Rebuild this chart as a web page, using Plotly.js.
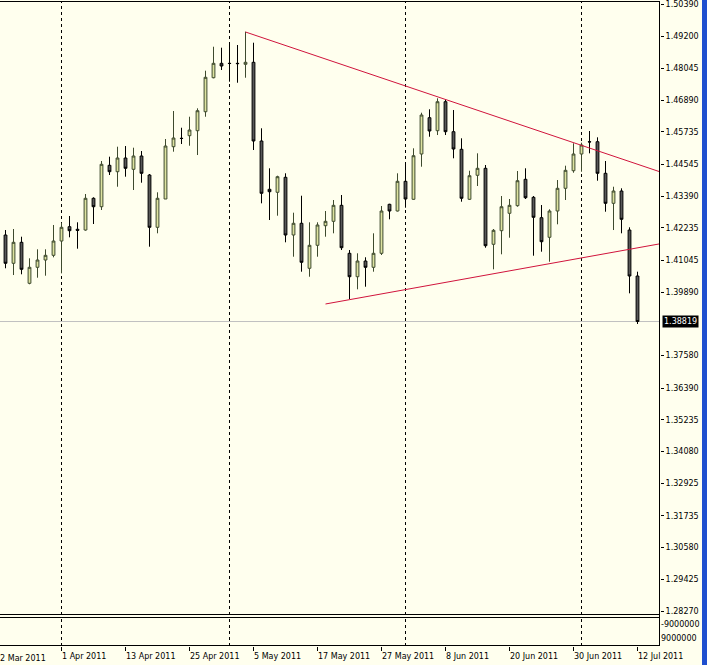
<!DOCTYPE html>
<html><head><meta charset="utf-8">
<script src="https://cdn.plot.ly/plotly-3.0.1.min.js"></script>
<style>html,body{margin:0;padding:0;background:#FFFFEE;overflow:hidden}</style>
</head><body><div id="chart" style="width:707px;height:665px"></div>
<script>
const dates = [
"2011-03-23","2011-03-24","2011-03-25","2011-03-28","2011-03-29","2011-03-30","2011-03-31",
"2011-04-01","2011-04-04","2011-04-05","2011-04-06","2011-04-07","2011-04-08","2011-04-11","2011-04-12","2011-04-13","2011-04-14","2011-04-15","2011-04-18","2011-04-19","2011-04-20","2011-04-21","2011-04-22","2011-04-25","2011-04-26","2011-04-27","2011-04-28","2011-04-29",
"2011-05-02","2011-05-03","2011-05-04","2011-05-05","2011-05-06","2011-05-09","2011-05-10","2011-05-11","2011-05-12","2011-05-13","2011-05-16","2011-05-17","2011-05-18","2011-05-19","2011-05-20","2011-05-23","2011-05-24","2011-05-25","2011-05-26","2011-05-27","2011-05-30","2011-05-31",
"2011-06-01","2011-06-02","2011-06-03","2011-06-06","2011-06-07","2011-06-08","2011-06-09","2011-06-10","2011-06-13","2011-06-14","2011-06-15","2011-06-16","2011-06-17","2011-06-20","2011-06-21","2011-06-22","2011-06-23","2011-06-24","2011-06-27","2011-06-28","2011-06-29","2011-06-30",
"2011-07-01","2011-07-04","2011-07-05","2011-07-06","2011-07-07","2011-07-08","2011-07-11","2011-07-12"];

const open = [
1.41972,1.40941,1.41706,1.40212,1.40795,1.41061,1.41232,
1.41753,1.42275,1.42180,1.42154,1.43310,1.43003,1.44512,1.44279,1.44778,1.44366,1.44851,1.44159,1.42253,1.43284,1.45190,1.45496,1.45591,1.45773,1.46465,1.47704,1.48229,
1.48229,1.48229,1.48193,1.48266,1.45398,1.43638,1.43528,1.44075,1.41972,1.42399,1.40759,1.41597,1.42311,1.42471,1.43054,1.41305,1.40452,1.41025,1.40795,1.41305,1.43091,1.42847,
1.43929,1.43273,1.44924,1.46247,1.45773,1.46830,1.45737,1.45095,1.43273,1.44148,1.44403,1.41633,1.42129,1.42763,1.43040,1.44002,1.43346,1.42603,1.41888,1.42847,1.43674,1.44315,
1.44924,1.45372,1.45372,1.44221,1.43127,1.43576,1.42154,1.40478];

const high = [
1.42154,1.42191,1.41910,1.41123,1.41451,1.41451,1.42337,
1.42420,1.42665,1.42435,1.43466,1.43346,1.44669,1.44826,1.45190,1.45215,1.45154,1.45033,1.44195,1.43528,1.45471,1.46491,1.45882,1.46283,1.46589,1.47960,1.48834,1.48798,
1.48980,1.48896,1.49381,1.48980,1.45861,1.44403,1.44133,1.44221,1.42785,1.43404,1.42435,1.42435,1.42847,1.43248,1.43430,1.41425,1.41305,1.41160,1.42034,1.43029,1.43110,1.44221,
1.44585,1.45132,1.46429,1.46553,1.46954,1.46917,1.46527,1.45496,1.44315,1.44949,1.44523,1.42191,1.43393,1.43284,1.44304,1.44403,1.43393,1.43065,1.42909,1.43976,1.44498,1.45314,
1.45336,1.45762,1.45532,1.44669,1.43732,1.43674,1.42253,1.40635];

const low = [
1.40759,1.40514,1.40540,1.40176,1.40416,1.40489,1.41159,
1.40576,1.41888,1.41473,1.42129,1.42373,1.42883,1.44159,1.43732,1.44097,1.43612,1.43878,1.41546,1.42034,1.43284,1.45008,1.45288,1.45226,1.44887,1.46283,1.47683,1.47985,
1.47559,1.47522,1.47704,1.45070,1.43127,1.42519,1.42676,1.41706,1.41181,1.40635,1.40452,1.41181,1.41910,1.42034,1.41425,1.39640,1.39993,1.40088,1.40635,1.41243,1.42544,1.42830,
1.42967,1.43260,1.44461,1.45554,1.45616,1.45616,1.44767,1.43186,1.43248,1.43758,1.41509,1.40722,1.41269,1.41874,1.43003,1.43284,1.41218,1.41364,1.40999,1.42362,1.43248,1.44242,
1.44279,1.44949,1.43951,1.42821,1.42154,1.42034,1.39847,1.38729];

const close = [
1.40941,1.41706,1.40722,1.40795,1.41061,1.41232,1.41753,
1.42253,1.42129,1.42143,1.43310,1.43003,1.44549,1.44279,1.44778,1.44403,1.44851,1.44221,1.42253,1.43310,1.45215,1.45507,1.45490,1.45799,1.46502,1.47719,1.48229,1.48131,
1.48222,1.48218,1.48266,1.45398,1.43492,1.43550,1.44097,1.41972,1.42399,1.40977,1.41597,1.42337,1.42471,1.43054,1.41509,1.40452,1.41025,1.40795,1.41305,1.42847,1.42847,1.43929,
1.43284,1.44862,1.46345,1.45762,1.46830,1.45737,1.45106,1.43310,1.44133,1.44403,1.41582,1.42143,1.43003,1.43054,1.43951,1.43331,1.42617,1.41728,1.42847,1.43674,1.44330,1.44924,
1.45252,1.45365,1.44221,1.43127,1.43576,1.42544,1.40478,1.38819];

const priceTicks = [1.50390,1.49200,1.48045,1.46890,1.45735,1.44545,1.43390,1.42235,1.41045,1.39890,
  1.37580,1.36390,1.35235,1.34080,1.32925,1.31735,1.30580,1.29425,1.28270];

const dateLabelDates = ["2011-04-01","2011-04-13","2011-04-25","2011-05-05","2011-05-17","2011-05-27","2011-06-08","2011-06-20","2011-06-30","2011-07-12"];
const dateLabelTexts = ["1 Apr 2011","13 Apr 2011","25 Apr 2011","5 May 2011","17 May 2011","27 May 2011","8 Jun 2011","20 Jun 2011","30 Jun 2011","12 Jul 2011"];
const firstLabelText = "22 Mar 2011";

const monthStarts = ["2011-04-01","2011-05-02","2011-06-01","2011-07-01"];

// trend lines: bar index (position in dates, extended past the last bar) and price
const upperTrendIdx = [30, 82];
const upperTrendPrice = [1.49370, 1.44256];
const lowerTrendIdx = [40, 82];
const lowerTrendPrice = [1.39458, 1.41662];

const indicatorTickText = ["-9000000", "9000000"];

const xIdx = dates.map((d, i) => i);
const lastClose = close[close.length - 1];

const FONT = 'DejaVu Sans';
const candle = {
  type: 'candlestick', x: xIdx, open: open, high: high, low: low, close: close,
  xaxis: 'x', yaxis: 'y', whiskerwidth: 0,
  increasing: {line: {color: '#3E4A2E', width: 1}, fillcolor: '#DDE3A0'},
  decreasing: {line: {color: '#000000', width: 1}, fillcolor: '#585858'},
  hoverinfo: 'skip', showlegend: false
};
const up = {type: 'scatter', mode: 'lines', x: upperTrendIdx, y: upperTrendPrice, xaxis: 'x', yaxis: 'y',
  line: {color: '#D0143C', width: 1}, hoverinfo: 'skip', showlegend: false};
const lo = {type: 'scatter', mode: 'lines', x: lowerTrendIdx, y: lowerTrendPrice, xaxis: 'x', yaxis: 'y',
  line: {color: '#D0143C', width: 1}, hoverinfo: 'skip', showlegend: false};
// empty indicator window
const ind = {type: 'scatter', mode: 'lines', x: [], y: [], xaxis: 'x', yaxis: 'y2',
  hoverinfo: 'skip', showlegend: false};

const shapes = [];
monthStarts.forEach(d => {
  const i = dates.indexOf(d);
  ['y domain', 'y2 domain'].forEach(yr => shapes.push({type: 'line', xref: 'x', yref: yr, x0: i, x1: i, y0: 0, y1: 1,
    line: {color: '#000', width: 1, dash: '3px,3px'}, layer: 'below'}));
});
shapes.push({type: 'line', xref: 'x domain', yref: 'y', x0: 0, x1: 1, y0: lastClose, y1: lastClose,
  line: {color: '#C0C0C0', width: 1}, layer: 'below'});
// panel borders (placed on pixel centres)
const B = {color: '#000', width: 1};
shapes.push({type: 'line', xref: 'paper', yref: 'y domain', x0: 0, x1: 1, y0: 1 - 0.5/614, y1: 1 - 0.5/614, line: B});
shapes.push({type: 'line', xref: 'paper', yref: 'y domain', x0: 0, x1: 1, y0: 0.5/614, y1: 0.5/614, line: B});
shapes.push({type: 'line', xref: 'paper', yref: 'y2 domain', x0: 0, x1: 1, y0: 1 - 0.5/29, y1: 1 - 0.5/29, line: B});
shapes.push({type: 'line', xref: 'paper', yref: 'y2 domain', x0: 0, x1: 1, y0: 0.5/29, y1: 0.5/29, line: B});
shapes.push({type: 'line', xref: 'paper', yref: 'paper', x0: 659.5/660, x1: 659.5/660, y0: 0, y1: 1, line: B});
// window frame strip at right
shapes.push({type: 'rect', xref: 'paper', yref: 'paper', x0: 702/660, x1: 1.2, y0: -0.2, y1: 1.2,
  fillcolor: '#1F4FCF', line: {width: 0}, layer: 'above'});

const annotations = [
  {xref: 'paper', yref: 'y', x: 1, y: lastClose, xanchor: 'left', yanchor: 'middle', xshift: 2,
   text: lastClose.toFixed(5), showarrow: false, bgcolor: '#000', borderpad: 1,
   font: {family: FONT, size: 8, color: '#FFF'}},
  {xref: 'paper', yref: 'paper', x: -7/660, y: 0, xanchor: 'left', yanchor: 'top', yshift: -6,
   text: firstLabelText, showarrow: false, font: {family: FONT, size: 8, color: '#000'}}
];

const layout = {
  width: 707, height: 665,
  margin: {l: 0, r: 47, t: 1, b: 19, pad: 0},
  paper_bgcolor: '#FFFFEE', plot_bgcolor: '#FFFFEE',
  showlegend: false, boxgap: 0.5, dragmode: false,
  font: {family: FONT, size: 8, color: '#000'},
  xaxis: {type: 'linear', range: [-0.6875, 81.8125], anchor: 'y2', fixedrange: true,
    tickvals: dateLabelDates.map(d => dates.indexOf(d)), ticktext: dateLabelTexts,
    ticks: 'outside', ticklen: 4, tickcolor: '#000', ticklabelposition: 'outside right', ticklabeloverflow: 'allow',
    ticklabelstandoff: 2,
    showgrid: false, zeroline: false, showline: false, rangeslider: {visible: false},
    tickfont: {family: FONT, size: 8, color: '#000'}},
  yaxis: {domain: [0.04806, 1], side: 'right', anchor: 'x', range: [1.28124, 1.50500], fixedrange: true,
    tickvals: priceTicks, tickformat: '.5f', ticks: 'outside', ticklen: 3, tickcolor: '#000', ticklabeloverflow: 'allow',
    showgrid: false, zeroline: false, showline: false,
    tickfont: {family: FONT, size: 8, color: '#000'}},
  yaxis2: {domain: [0, 0.04496], side: 'right', anchor: 'x', range: [0, 1], fixedrange: true,
    tickvals: [0.76, 0.276], ticktext: indicatorTickText, ticks: '', ticklabeloverflow: 'allow',
    showgrid: false, zeroline: false, showline: false,
    tickfont: {family: FONT, size: 8, color: '#000'}},
  shapes: shapes, annotations: annotations
};

Plotly.newPlot('chart', [candle, up, lo, ind], layout, {staticPlot: true, displayModeBar: false});
</script></body></html>
